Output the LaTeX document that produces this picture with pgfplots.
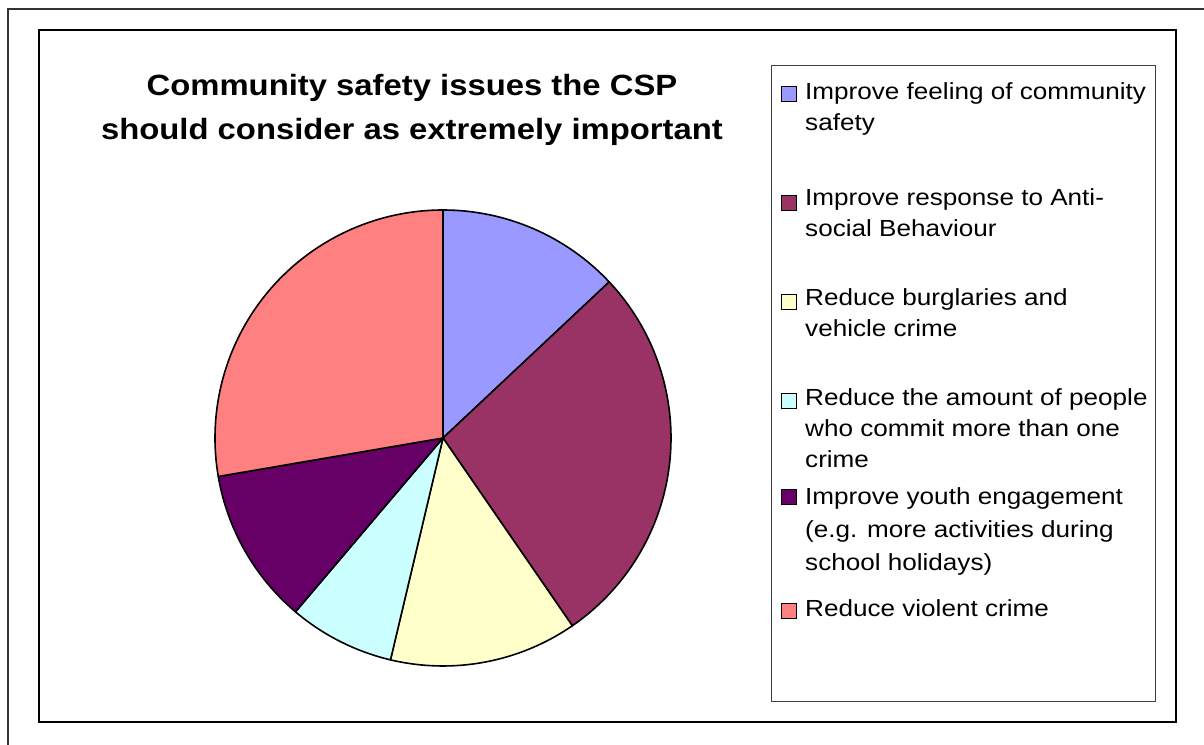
\documentclass[border=0pt]{standalone}
\usepackage{pgfplots}
\pgfplotsset{compat=1.18}
\usepackage{pgfplotstable}
\usepackage{fontspec}
\setmainfont{Liberation Sans}[FakeStretch=1.12]

\definecolor{pie0}{HTML}{9999FF}
\definecolor{pie1}{HTML}{993366}
\definecolor{pie2}{HTML}{FFFFCC}
\definecolor{pie3}{HTML}{CCFFFF}
\definecolor{pie4}{HTML}{660066}
\definecolor{pie5}{HTML}{FF8080}

% share of responses (percent), clockwise from 12 o'clock
\pgfplotstableread{
idx value
0 13.0
1 27.4
2 13.3
3 7.5
4 11.1
5 27.7
}\piedata

\begin{document}
\begin{tikzpicture}
\useasboundingbox (0,0) rectangle (1204bp,745bp);
\gdef\cum{0}
\foreach \i in {0,...,5}{%
  \pgfplotstablegetelem{\i}{value}\of\piedata
  \pgfmathsetmacro\a{90-3.6*\cum}%
  \pgfmathsetmacro\newcum{\cum+\pgfplotsretval}%
  \pgfmathsetmacro\b{90-3.6*\newcum}%
  \expandafter\xdef\csname pieA\i\endcsname{\a}%
  \expandafter\xdef\csname pieB\i\endcsname{\b}%
  \xdef\cum{\newcum}%
}
\begin{axis}[x=1bp, y=1bp, xmin=0, xmax=1204, ymin=0, ymax=745,
  hide axis, clip=false, scale only axis, anchor=south west, at={(0,0)}]
% frames
\draw[line width=2bp, black!80] (axis cs:8,0) -- (axis cs:8,736) -- (axis cs:1204,736);
\draw[line width=1.5bp, black] (axis cs:39,715) rectangle (axis cs:1176,23);
\draw[line width=1bp, black!75] (axis cs:771,679) rectangle (axis cs:1155,43);
% pie
\pgfplotsinvokeforeach{0,...,5}{%
  \filldraw[fill=pie#1, draw=black, line width=1.6bp, line join=round]
    (axis cs:443,307) -- ++(\csname pieA#1\endcsname:228bp)
    arc[start angle=\csname pieA#1\endcsname, end angle=\csname pieB#1\endcsname, radius=228bp] -- cycle;
}
% title
\node[anchor=base, font=\fontsize{29.3bp}{36bp}\selectfont\bfseries] at (axis cs:412,649) {Community safety issues the CSP};
\node[anchor=base, font=\fontsize{29.3bp}{36bp}\selectfont\bfseries] at (axis cs:412,605) {should consider as extremely important};
% legend keys
\pgfplotsinvokeforeach{0,...,5}{}
\filldraw[fill=pie0, draw=black, line width=1bp] (axis cs:781,658) rectangle (axis cs:796,643);
\filldraw[fill=pie1, draw=black, line width=1bp] (axis cs:781,549.5) rectangle (axis cs:796,534.5);
\filldraw[fill=pie2, draw=black, line width=1bp] (axis cs:781,450) rectangle (axis cs:796,435);
\filldraw[fill=pie3, draw=black, line width=1bp] (axis cs:781,351.5) rectangle (axis cs:796,336.5);
\filldraw[fill=pie4, draw=black, line width=1bp] (axis cs:781,255.5) rectangle (axis cs:796,240.5);
\filldraw[fill=pie5, draw=black, line width=1bp] (axis cs:781,141.5) rectangle (axis cs:796,126.5);
% legend texts
\tikzset{lg/.style={anchor=base west, inner sep=0pt, font=\fontsize{23.3bp}{28bp}\selectfont}}
\node[lg] at (axis cs:805,645) {Improve feeling of community};
\node[lg] at (axis cs:805,614) {safety};
\node[lg] at (axis cs:805,539) {Improve response to Anti-};
\node[lg] at (axis cs:805,508) {social Behaviour};
\node[lg] at (axis cs:805,439) {Reduce burglaries and};
\node[lg] at (axis cs:805,408) {vehicle crime};
\node[lg] at (axis cs:805,340) {Reduce the amount of people};
\node[lg] at (axis cs:805,309) {who commit more than one};
\node[lg] at (axis cs:805,278) {crime};
\node[lg] at (axis cs:805,241) {Improve youth engagement};
\node[lg] at (axis cs:805,208) {(e.g. more activities during};
\node[lg] at (axis cs:805,175) {school holidays)};
\node[lg] at (axis cs:805,129) {Reduce violent crime};
\end{axis}
\end{tikzpicture}
\end{document}
